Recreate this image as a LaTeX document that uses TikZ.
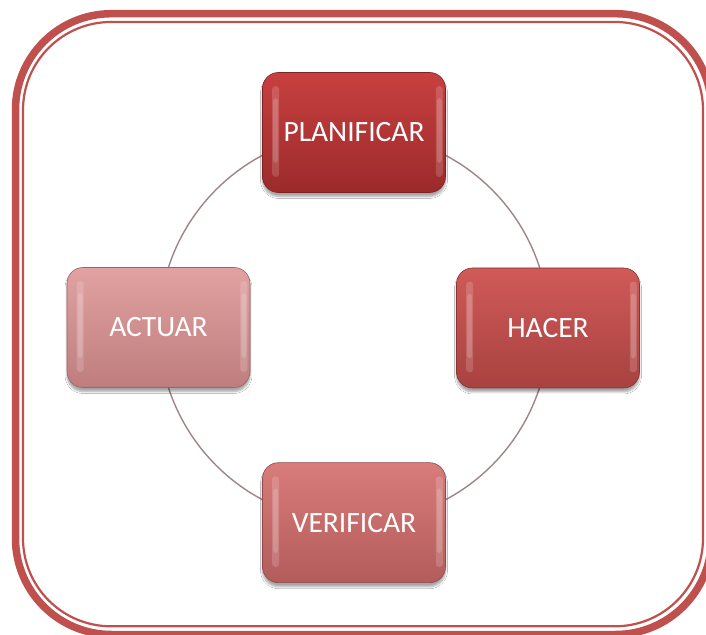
\documentclass[tikz,border=0pt]{standalone}
\usepackage{fontspec}
\setmainfont{Carlito}
\usetikzlibrary{shadows.blur}

\definecolor{framered}{HTML}{C0504D}
\definecolor{ringline}{HTML}{A08586}
% stage colours: top / middle / bottom
\definecolor{planT}{HTML}{C84040}\definecolor{planM}{HTML}{B73536}\definecolor{planB}{HTML}{9C2A2B}
\definecolor{hacT}{HTML}{D05A58}\definecolor{hacM}{HTML}{C44F4D}\definecolor{hacB}{HTML}{A84240}
\definecolor{verT}{HTML}{D97C7B}\definecolor{verM}{HTML}{CE6F6E}\definecolor{verB}{HTML}{B25C5B}
\definecolor{actT}{HTML}{E2A2A2}\definecolor{actM}{HTML}{D99494}\definecolor{actB}{HTML}{BF7D7D}

\tikzset{
  stage/.style n args={3}{
    rounded corners=16pt, minimum width=183pt, minimum height=120pt,
    text=white, font=\fontsize{29.5}{32}\selectfont, inner sep=0pt,
    top color=#1, middle color=#2, bottom color=#3,
    draw=#3!80!black, line width=0.6pt,
    blur shadow={shadow xshift=0pt, shadow yshift=-4pt, shadow blur steps=8, shadow opacity=35}
  },
  gloss/.style={fill=white, fill opacity=0.16, rounded corners=3pt},
  ring/.style={draw=ringline, line width=1.4pt},
  outerframe/.style={draw=framered, line width=7.5pt, rounded corners=96pt},
  innerframe/.style={draw=framered, line width=2.2pt, rounded corners=88pt}
}

% two stacked translucent strips give a highlight that is brightest in the middle
\newcommand{\glossfor}[1]{%
  \fill[gloss] ([shift={(10pt,-14pt)}]#1.north west) rectangle ([shift={(17pt,16pt)}]#1.south west);
  \fill[gloss] ([shift={(11pt,-26pt)}]#1.north west) rectangle ([shift={(16pt,30pt)}]#1.south west);
  \fill[gloss] ([shift={(-3pt,-14pt)}]#1.north east) rectangle ([shift={(-10pt,16pt)}]#1.south east);
  \fill[gloss] ([shift={(-4pt,-26pt)}]#1.north east) rectangle ([shift={(-9pt,30pt)}]#1.south east);
}

\begin{document}
\begin{tikzpicture}[x=1pt,y=1pt]
  \useasboundingbox (0,0) rectangle (706,634);
  \fill[white] (0,0) rectangle (706,634);

  % double frame
  \draw[outerframe] (15.5,-0.5) rectangle (711.5,620.3);
  \draw[innerframe] (23,7.7) rectangle (703,612);

  % cycle ring
  \coordinate (hub) at (354,306.5);
  \draw[ring] (hub) circle (195);

  % stages
  \node[stage={planT}{planM}{planB}] (plan)   at (354,501.5) {PLANIFICAR};
  \node[stage={hacT}{hacM}{hacB}]    (hacer)  at (548,306)   {HACER};
  \node[stage={verT}{verM}{verB}]    (verif)  at (354,111.3) {VERIFICAR};
  \node[stage={actT}{actM}{actB}]    (actuar) at (158.5,306.5) {ACTUAR};

  \glossfor{plan}
  \glossfor{hacer}
  \glossfor{verif}
  \glossfor{actuar}
\end{tikzpicture}
\end{document}
